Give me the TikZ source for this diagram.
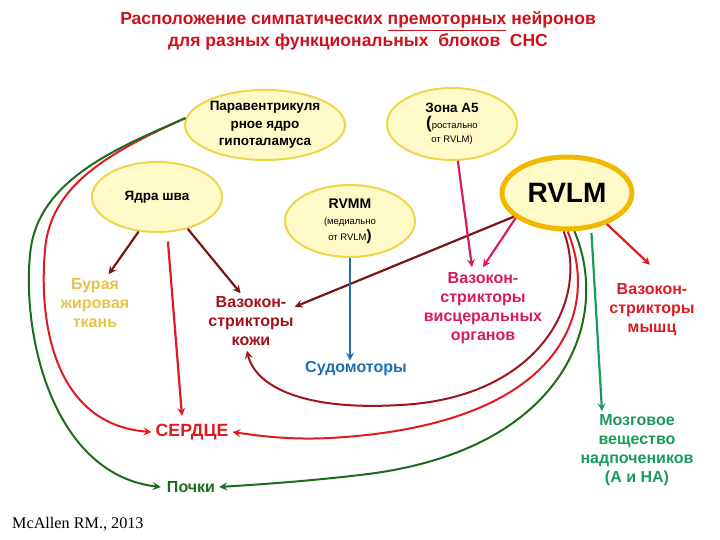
\documentclass[tikz,border=0pt]{standalone}
\usepackage{fontspec}
\setmainfont{Liberation Sans}
\newfontfamily\serifft{Liberation Serif}
\usetikzlibrary{shapes.geometric,arrows.meta}
\definecolor{titlered}{HTML}{D0101A}
\definecolor{ellfill}{HTML}{FFFAC8}
\definecolor{ellborder}{HTML}{EED54A}
\definecolor{rvlmborder}{HTML}{F2B800}
\definecolor{darkred}{HTML}{7A1515}
\definecolor{kozhired}{HTML}{A0141C}
\definecolor{pinkc}{HTML}{D81B60}
\definecolor{bluec}{HTML}{1E6FB0}
\definecolor{redc}{HTML}{E01A22}
\definecolor{dgreen}{HTML}{1E6B1E}
\definecolor{lgreen}{HTML}{1A9A5C}
\definecolor{goldc}{HTML}{E6C34A}
\begin{document}
\begin{tikzpicture}[x=1pt,y=-1pt,
  ell/.style={ellipse, draw=ellborder, fill=ellfill, line width=2pt, inner sep=0pt, align=center,
    font=\bfseries\fontsize{13.5}{17.5}\selectfont},
  lbl/.style={align=center, inner sep=1pt, font=\bfseries\fontsize{16}{19}\selectfont},
  arr/.style={line width=2.2pt, -{Stealth[length=8pt,width=8pt,inset=3pt]}},
  crv/.style={line width=2pt, -{Stealth[length=8pt,width=8pt,inset=3pt]}}]
\useasboundingbox (0,0) rectangle (720,540);
% title
\node[text=titlered, font=\bfseries\fontsize{17.5}{22}\selectfont, align=center] (title) at (358,31)
  {Расположение симпатических \underline{премоторных} нейронов\\для разных функциональных\ \ блоков\ \ СНС};
% ellipses
\node[ell, minimum width=160, minimum height=70] (pvn) at (265,125) {Паравентрикуля\\рное ядро\\гипоталамуса};
\node[ell, minimum width=130, minimum height=70] (yadra) at (157,197) {Ядра шва};
\node[ell, minimum width=130, minimum height=72] (a5) at (452,124)
  {Зона А5\\[-2pt]{\fontsize{17}{17}\selectfont(}{\mdseries\fontsize{9.5}{9.5}\selectfont ростально}\\[-3pt]{\mdseries\fontsize{9.5}{9.5}\selectfont от RVLM)}};
\node[ell, minimum width=130, minimum height=72] (rvmm) at (350,221)
  {\fontsize{14}{14}\selectfont RVMM\\[-1pt]{\mdseries\fontsize{9.5}{9.5}\selectfont (медиально}\\[-2pt]{\mdseries\fontsize{9.5}{9.5}\selectfont от RVLM}{\fontsize{15}{15}\selectfont)}};
\node[ell, draw=rvlmborder, line width=5pt, minimum width=130, minimum height=72,
  font=\bfseries\fontsize{28}{28}\selectfont] (rvlm) at (567,193) {RVLM};
% labels
\node[lbl, text=goldc] (bur) at (95,303) {Бурая\\жировая\\ткань};
\node[lbl, text=kozhired] (kozhi) at (251,321) {Вазокон-\\стрикторы\\кожи};
\node[lbl, text=bluec] (sudo) at (356,369) {Судомоторы};
\node[lbl, text=pinkc] (visc) at (483,308) {Вазокон-\\стрикторы\\висцеральных\\органов};
\node[lbl, text=redc] (mysh) at (652,310) {Вазокон-\\стрикторы\\мышц};
\node[lbl, text=lgreen] (mozg) at (637,450) {Мозговое\\вещество\\надпочеников\\(А и НА)};
\node[lbl, text=redc, font=\bfseries\fontsize{17.7}{17.7}\selectfont] (serdce) at (192,432) {СЕРДЦЕ};
\node[lbl, text=dgreen, font=\bfseries\fontsize{16}{16}\selectfont] (pochki) at (191,487) {Почки};
\node[font=\serifft\fontsize{16.2}{16.2}\selectfont, anchor=west, inner sep=0pt] (ref) at (12,524) {McAllen RM., 2013};
% straight arrows
\draw[arr, darkred] (yadra.242) -- ([yshift=3]bur.62);
\draw[arr, darkred] (yadra.314) -- ([yshift=2]kozhi.112);
\draw[arr, darkred] (rvlm.204) -- (kozhi.18);
\draw[arr, pinkc] (rvlm.206) -- ([yshift=4]visc.north);
\draw[arr, pinkc] (a5.279) -- ([xshift=-11,yshift=4]visc.north);
\draw[arr, bluec] (rvmm.south) -- (rvmm.south |- sudo.north);
\draw[arr, redc] (rvlm.322) -- ([yshift=18,xshift=-2]mysh.north);
\draw[arr, lgreen, shorten <=4pt] (rvlm.304) -- ([xshift=-35,yshift=2]mozg.north);
\draw[arr, redc, shorten <=9pt] (yadra.286) -- ([xshift=-10,yshift=7]serdce.north);
% curves from RVLM
\draw[crv, kozhired] (rvlm.265) .. controls (590,300) and (540,398) .. (400,405)
  .. controls (300,411) and (255,385) .. ([xshift=-4,yshift=-4]kozhi.south);
\draw[crv, redc] (rvlm.271) .. controls (600,310) and (565,425) .. (330,438)
  .. controls (290,440) and (260,436) .. ([xshift=3]serdce.east);
\draw[crv, dgreen] (rvlm.281) .. controls (612,320) and (565,452) .. (360,475)
  .. controls (300,482) and (250,485) .. ([xshift=3]pochki.east);
% curves from PVN
\draw[crv, redc] (pvn.175) .. controls (110,152) and (50,185) .. (45,250)
  .. controls (38,330) and (58,425) .. ([xshift=-3]serdce.west);
\draw[crv, dgreen] (pvn.175) .. controls (112,150) and (36,182) .. (30,255)
  .. controls (22,340) and (55,475) .. ([xshift=-5]pochki.west);
\end{tikzpicture}
\end{document}
